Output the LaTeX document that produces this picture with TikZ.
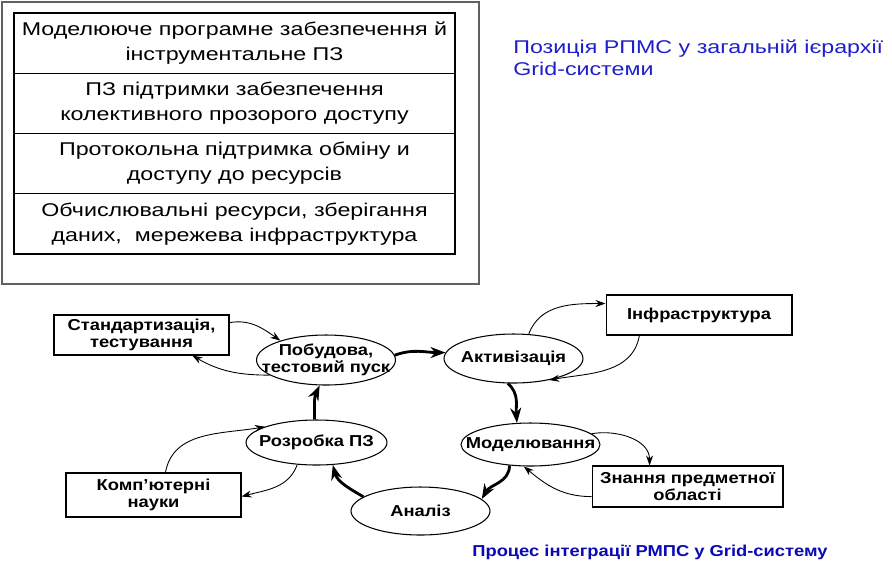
\documentclass[tikz,border=0pt]{standalone}
\usepackage{fontspec}
\setmainfont{Liberation Sans}
\newfontfamily\widefont[FakeStretch=1.26]{Liberation Sans}
\newfontfamily\labelfont[FakeStretch=1.16]{Liberation Sans}
\usetikzlibrary{arrows.meta,shapes.geometric}
\definecolor{frame}{HTML}{606060}
\definecolor{caption}{HTML}{1E1ECC}
\definecolor{capdark}{HTML}{0A0AB4}

\begin{document}
\begin{tikzpicture}[x=0.02cm, y=-0.02cm, every node/.style={font=\labelfont\fontsize{9}{10}\selectfont\bfseries},
    layer/.style={draw, line width=0.7pt, minimum width=8.82cm, minimum height=1.205cm, inner sep=0pt, outer sep=0pt, align=center, font=\widefont\fontsize{10.5}{14.2}\selectfont},
    stage/.style={draw, ellipse, line width=0.6pt, minimum width=2.78cm, inner sep=-5mm, align=center},
    source/.style={draw, line width=0.6pt, minimum height=0.82cm, inner sep=0pt, align=center},
    flow/.style={-{Stealth[length=3mm, width=2.2mm]}, line width=1.6pt},
    link/.style={-{Stealth[length=2mm, width=1.4mm]}, line width=0.5pt}]
        \useasboundingbox (0,0) rectangle (892,579);
        \draw[frame, line width=0.8pt] (2,2) rectangle (479,284);
        \node[layer] (soft) at (234.5,43.1) {Моделююче програмне забезпечення й\\інструментальне ПЗ};
        \node[layer] (access) at (234.5,103.4) {ПЗ підтримки забезпечення\\колективного прозорого доступу};
        \node[layer] (proto) at (234.5,163.6) {Протокольна підтримка обміну и\\доступу до ресурсів};
        \node[layer] (res) at (234.5,223.9) {Обчислювальні ресурси, зберігання\\даних,\ \ мережева інфраструктура};
        \node[anchor=north west, inner sep=0pt, align=left, text=caption, font=\widefont\fontsize{10.5}{13}\selectfont] (title) at (513,39) {Позиція РПМС у загальній ієрархії\\Grid-системи};

        \node[stage, minimum height=1.0cm] (build) at (326,360) {Побудова,\\тестовий пуск};
        \node[stage, minimum height=0.98cm] (activ) at (513.5,358.5) {Активізація};
        \node[stage, minimum height=0.86cm] (model) at (530.5,444.5) {Моделювання};
        \node[stage, minimum height=0.96cm] (analys) at (420.5,511) {Аналіз};
        \node[stage, minimum height=0.9cm, minimum width=2.82cm] (devel) at (316.5,442.5) {Розробка ПЗ};
        \node[source, minimum width=3.5cm, minimum height=0.8cm] (std) at (141.5,335) {Стандартизація,\\тестування};
        \node[source, minimum width=3.72cm, minimum height=0.8cm] (infra) at (699,315) {Інфраструктура};
        \node[source, minimum width=3.82cm] (know) at (687.5,486.5) {Знання предметної\\області};
        \node[source, minimum width=3.5cm, minimum height=0.88cm] (comp) at (153.5,495) {Комп’ютерні\\науки};
        \node[anchor=base west, inner sep=0pt, text=capdark] (proc) at (472,556) {Процес інтеграції РМПС у Grid-систему};

        \draw[link] (std.8) to[out=10, in=145] (build.157);
        \draw[link] (build.195) to[out=180, in=-30] (std.-22);
        \draw[flow] (build.4) to[out=20, in=180] (activ.175);
        \draw[link] (activ.58) to[out=70, in=180] (infra.173);
        \draw[link] (infra.199) to[out=-100, in=10] (activ.-31);
        \draw[flow] (activ.-103) to[out=-40, in=95] (model.122);
        \draw[link] (model.10) to[out=10, in=90] (know.151);
        \draw[link] (know.186) to[out=180, in=-40] (model.-107);
        \draw[flow] (model.-135) to[out=-90, in=60] (analys.11);
        \draw[flow] (analys.166) to[out=150, in=-75] (devel.-54);
        \draw[flow] (devel.95) to[out=90, in=-115] (build.-104);
        \draw[link] (comp.62) to[out=80, in=190] (devel.163);
        \draw[link] (devel.-131) to[out=-110, in=15] (comp.-1);
      \end{tikzpicture}
\end{document}
